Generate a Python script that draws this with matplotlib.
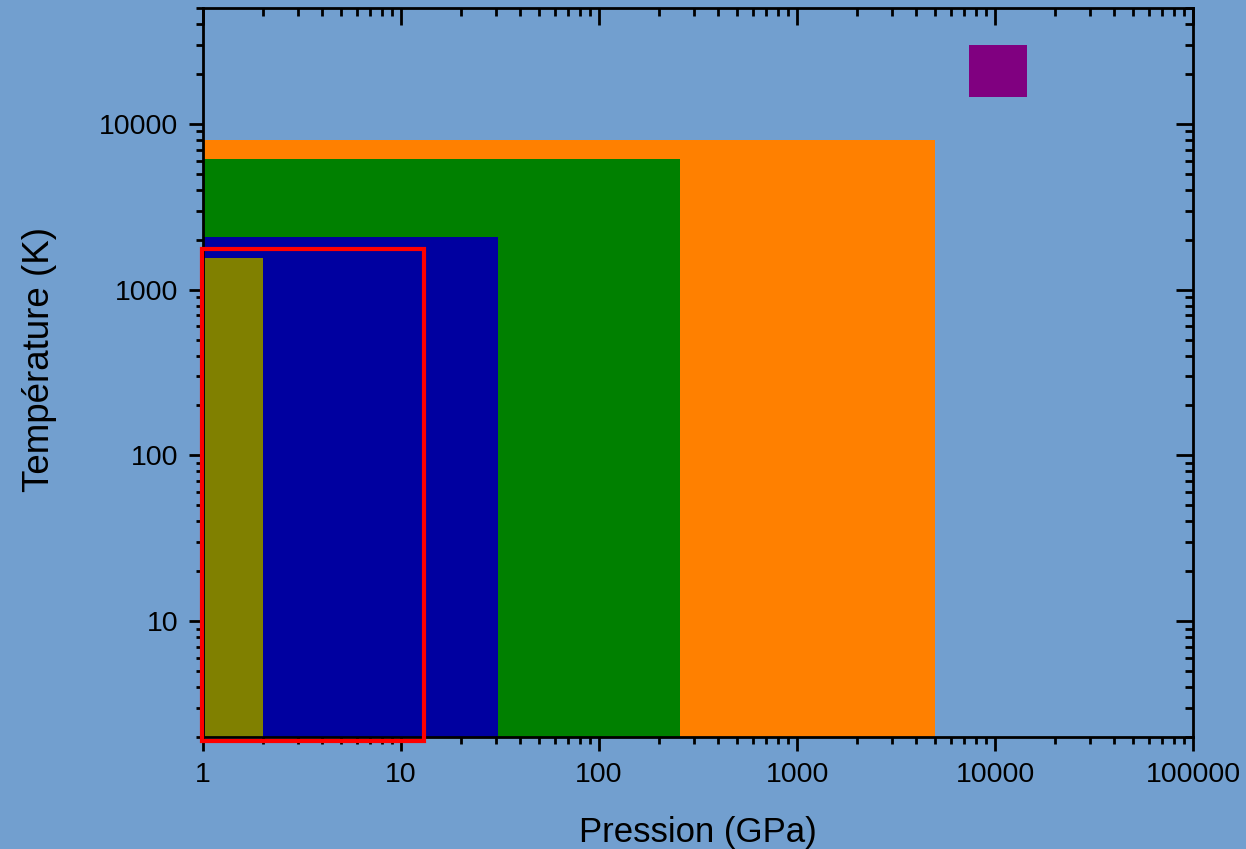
import matplotlib.pyplot as plt
from matplotlib.patches import Rectangle
from matplotlib.ticker import FuncFormatter, LogLocator, NullFormatter

plt.rcParams['font.family'] = ['Liberation Sans', 'DejaVu Sans']

# filled domains (pression GPa, température K)
p_min = [1, 1, 1, 1.02, 7400]
p_max = [5000, 255, 31, 2, 14500]
t_min = [2, 2, 2, 2, 14500]
t_max = [8000, 6100, 2080, 1550, 30000]
couleurs = ['#FF8000', '#008000', '#0000A0', '#808000', '#800080']

# red outlined frame
cadre_p = [0.99, 13.1]
cadre_t = [1.9, 1760]

xlim = (1, 100000)
ylim = (2, 50000)
xticks = [1, 10, 100, 1000, 10000, 100000]
yticks = [10, 100, 1000, 10000]

bg = '#729FCF'
fig = plt.figure(figsize=(12.46, 8.49), dpi=100, facecolor=bg)
ax = fig.add_axes([0.163, 0.132, 0.7945, 0.8585])
ax.set_facecolor(bg)
ax.set_xscale('log')
ax.set_yscale('log')
ax.set_xlim(xlim)
ax.set_ylim(ylim)

for x0, x1, y0, y1, c in zip(p_min, p_max, t_min, t_max, couleurs):
    ax.add_patch(Rectangle((x0, y0), x1 - x0, y1 - y0, facecolor=c,
                           edgecolor='none', zorder=2))

ax.add_patch(Rectangle((cadre_p[0], cadre_t[0]), cadre_p[1] - cadre_p[0],
                       cadre_t[1] - cadre_t[0], facecolor='none',
                       edgecolor='#FF0000', linewidth=3, zorder=6,
                       clip_on=False))

fmt = FuncFormatter(lambda v, pos: '%d' % round(v))
ax.xaxis.set_minor_locator(LogLocator(base=10, subs=range(2, 10), numticks=20))
ax.yaxis.set_minor_locator(LogLocator(base=10, subs=range(2, 10), numticks=20))
ax.set_xticks(xticks)
ax.set_yticks(yticks)
ax.xaxis.set_major_formatter(fmt)
ax.yaxis.set_major_formatter(fmt)
ax.xaxis.set_minor_formatter(NullFormatter())
ax.yaxis.set_minor_formatter(NullFormatter())

ax.tick_params(which='major', direction='out', length=10, width=2,
               labelsize=20.5, pad=8)
ax.tick_params(which='minor', direction='out', length=5, width=2)
for s in ax.spines.values():
    s.set_linewidth(2)
    s.set_zorder(5)

ax.set_xlabel('Pression (GPa)', fontsize=25, labelpad=20)
ax.set_ylabel('Température (K)', fontsize=26.5, labelpad=30)
ax.yaxis.label.set_y(0.518)

# inner ticks on top and right
axt = fig.add_axes(ax.get_position(), sharex=ax, sharey=ax, frameon=False)
axt.patch.set_visible(False)
axt.tick_params(which='both', direction='in', bottom=False, left=False,
                top=True, right=True, labelbottom=False, labelleft=False,
                labeltop=False, labelright=False)
axt.tick_params(which='major', length=12, width=2)
axt.tick_params(which='minor', length=6, width=2)

fig.savefig('out.png', dpi=100, facecolor=bg)
